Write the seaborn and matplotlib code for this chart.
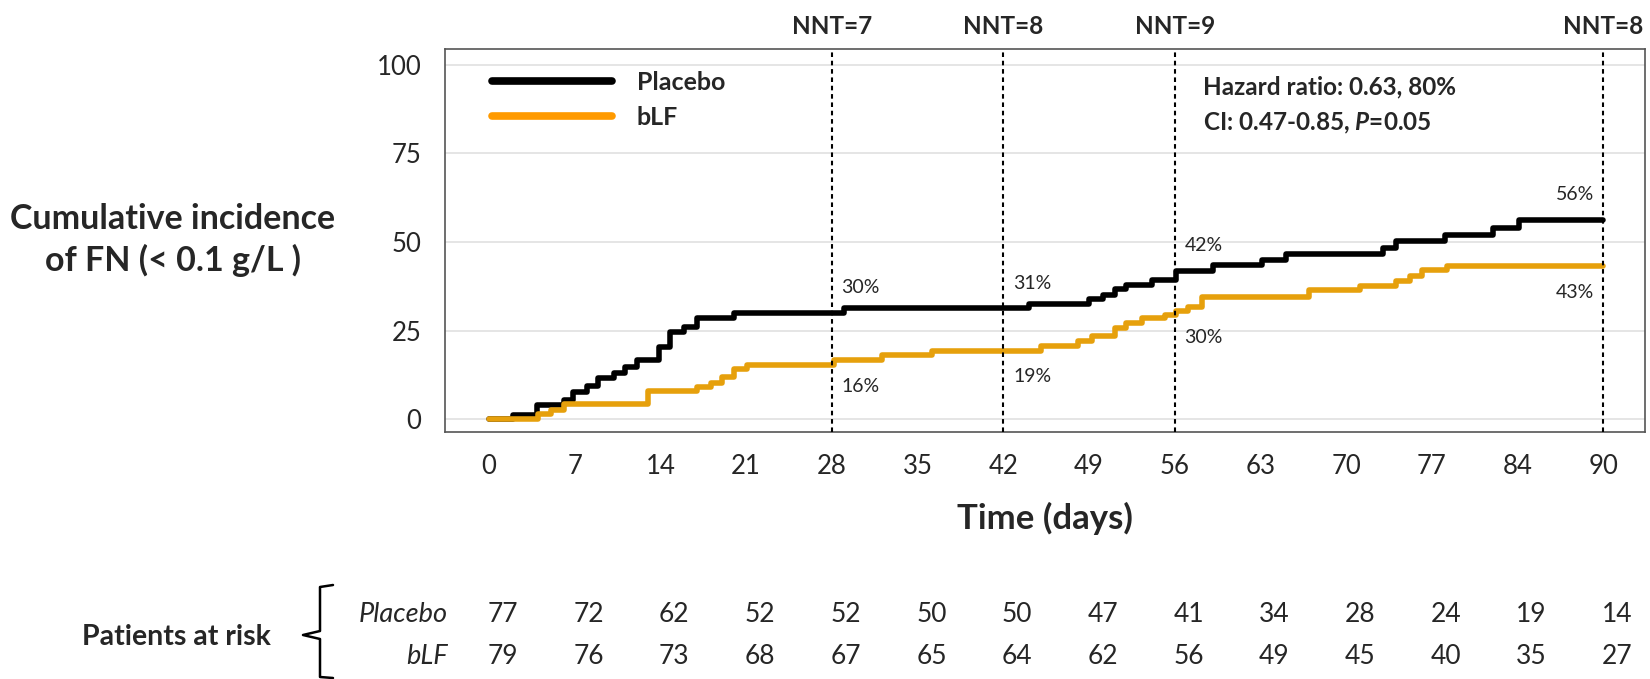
import numpy as np
import pandas as pd
import matplotlib
matplotlib.use('Agg')
import matplotlib.pyplot as plt
import matplotlib.transforms as mtransforms
from matplotlib.lines import Line2D
import seaborn as sns

# step curves (day of event, cumulative incidence %)
placebo_days = [0, 2.0, 3.9, 6.1, 6.9, 8.0, 8.9, 10.2, 11.1, 12.1, 13.9, 14.8, 15.9, 17.0,
                20.0, 29.0, 44.1, 49.0, 50.1, 51.1, 52.0, 54.1, 56.1, 59.1, 63.1, 65.1,
                73.0, 74.1, 78.1, 82.0, 84.1, 91]
placebo_pct = [0, 1.3, 4.0, 5.4, 7.8, 9.4, 11.6, 13.2, 14.7, 16.7, 20.5, 24.7, 25.9, 28.5,
               30.0, 31.3, 32.6, 33.9, 35.1, 36.7, 37.9, 39.3, 41.9, 43.5, 45.0, 46.7,
               48.3, 50.4, 52.1, 53.9, 56.3, 56.3]
blf_days = [0, 4.0, 5.1, 6.1, 13.0, 17.0, 18.1, 19.0, 20.0, 21.1, 28.2, 32.1, 36.2, 45.1,
            48.1, 49.2, 51.1, 52.0, 53.3, 55.2, 56.1, 57.1, 58.2, 67.0, 71.1, 74.1, 75.2,
            76.2, 78.2, 91]
blf_pct = [0, 1.4, 2.6, 4.2, 8.1, 9.2, 10.3, 11.8, 14.1, 15.4, 16.6, 18.1, 19.4, 20.6,
           22.0, 23.4, 25.7, 27.1, 28.5, 29.5, 30.6, 31.6, 34.4, 36.4, 37.5, 38.9, 40.3,
           42.0, 43.1, 43.1]

arms = ['Placebo', 'bLF']
curve_colors = {'Placebo': '#000000', 'bLF': '#E6A00C'}
legend_colors = {'Placebo': '#000000', 'bLF': '#FF9A00'}

x_ticks = [0, 7, 14, 21, 28, 35, 42, 49, 56, 63, 70, 77, 84, 91]
x_tick_labels = ['0', '7', '14', '21', '28', '35', '42', '49', '56', '63', '70', '77', '84', '90']
y_ticks = [0, 25, 50, 75, 100]

nnt_days = [28, 42, 56, 91]
nnt_labels = ['NNT=7', 'NNT=8', 'NNT=9', 'NNT=8']
placebo_marks = ['30%', '31%', '42%', '56%']
blf_marks = ['16%', '19%', '30%', '43%']

risk_placebo = [77, 72, 62, 52, 52, 50, 50, 47, 41, 34, 28, 24, 19, 14]
risk_blf = [79, 76, 73, 68, 67, 65, 64, 62, 56, 49, 45, 40, 35, 27]

df = pd.concat([
    pd.DataFrame({'day': placebo_days, 'pct': placebo_pct, 'arm': 'Placebo'}),
    pd.DataFrame({'day': blf_days, 'pct': blf_pct, 'arm': 'bLF'}),
])

sns.set_style('white')
plt.rcParams['font.family'] = ['Lato', 'DejaVu Sans']
plt.rcParams['mathtext.fontset'] = 'custom'
plt.rcParams['mathtext.it'] = 'Lato:italic:bold'
plt.rcParams['mathtext.rm'] = 'Lato:bold'

fig = plt.figure(figsize=(16.5, 6.79), dpi=100)
ax = fig.add_axes([0.2697, 0.3645, 0.7273, 0.5626])

# grid first
for y in y_ticks:
    ax.axhline(y, color='#E3E3E3', lw=1.3, zorder=0)

sns.lineplot(data=df, x='day', y='pct', hue='arm', hue_order=arms, palette=curve_colors,
             drawstyle='steps-post', linewidth=4.0, estimator=None, legend=False, ax=ax,
             zorder=3)

for d in nnt_days:
    ax.axvline(d, color='black', lw=1.5, linestyle=(0, (2.2, 1.8)), zorder=4)

ax.set_xlim(-3.59, 94.4)
ax.set_ylim(-3.44, 104.3)
ax.set_xticks(x_ticks)
ax.set_xticklabels(x_tick_labels)
ax.set_yticks(y_ticks)
ax.tick_params(axis='y', length=14, width=1.1, color='#555555', pad=3, labelsize=18.5)
ax.tick_params(axis='x', length=5, width=1.1, color='#555555', pad=11, labelsize=18.5)
for s in ax.spines.values():
    s.set_color('#555555')
    s.set_linewidth(1.2)
ax.set_xlabel('Time (days)', fontsize=25, fontweight='bold', labelpad=17)
ax.set_ylabel('')

# NNT labels above the plot
top_tr = mtransforms.blended_transform_factory(ax.transData, fig.transFigure)
for d, lab in zip(nnt_days, nnt_labels):
    ax.text(d, 1 - 27 / 679, lab, transform=top_tr, ha='center', va='center',
            fontsize=17.5, fontweight='bold')


def value_at(days, pct, d):
    i = np.searchsorted(days, d, side='right') - 1
    return pct[i]


# percentage annotations next to the dashed lines
for k, d in enumerate(nnt_days):
    last = k == len(nnt_days) - 1
    probe = d - 0.01 if last else d + 0.6
    up = value_at(placebo_days, placebo_pct, probe)
    lo = value_at(blf_days, blf_pct, probe)
    dx = -7 if last else 7
    ha = 'right' if last else 'left'
    ax.annotate(placebo_marks[k], (d, up), xytext=(dx, 18), textcoords='offset points',
                ha=ha, va='center', fontsize=14)
    ax.annotate(blf_marks[k], (d, lo), xytext=(dx, -19), textcoords='offset points',
                ha=ha, va='center', fontsize=14)

# legend
handles = [Line2D([], [], color=legend_colors[a], lw=5.5) for a in arms]
leg = ax.legend(handles, arms, loc='upper left', bbox_to_anchor=(0.039, 0.945),
                frameon=False, borderpad=0, borderaxespad=0, handlelength=4.8,
                handletextpad=1.0, labelspacing=0.5, prop={'size': 18, 'weight': 'bold'})

ax.text(0.632, 0.9026, 'Hazard ratio: 0.63, 80%', transform=ax.transAxes,
        ha='left', va='center', fontsize=17.5, fontweight='bold')
ax.text(0.632, 0.8076, 'CI: 0.47-0.85, $P$=0.05', transform=ax.transAxes,
        ha='left', va='center', fontsize=17.5, fontweight='bold')

# y label as horizontal block
fig.text(173 / 1650, 1 - 240 / 679, 'Cumulative incidence\nof FN (< 0.1 g/L )',
         ha='center', va='center', multialignment='center', fontsize=24.5,
         fontweight='bold', linespacing=1.3)

# patients at risk table
row_y = {'Placebo': 1 - 615 / 679, 'bLF': 1 - 657 / 679}
shift = mtransforms.ScaledTranslation(10 / 72, 0, fig.dpi_scale_trans)
for arm, counts in zip(arms, [risk_placebo, risk_blf]):
    fig.text(448 / 1650, row_y[arm], arm, ha='right', va='center', fontsize=19.5,
             style='italic')
    for t, n in zip(x_ticks, counts):
        ax.text(t, row_y[arm], str(n), transform=top_tr + shift, ha='center',
                va='center', fontsize=19)

fig.text(176 / 1650, 1 - 637 / 679, 'Patients at risk', ha='center', va='center',
         fontsize=20.5, fontweight='bold')

# bracket
bx = [333 / 1650, 320 / 1650, 320 / 1650, 303 / 1650, 320 / 1650, 320 / 1650, 333 / 1650]
by = [1 - 585 / 679, 1 - 587 / 679, 1 - 631 / 679, 1 - 635 / 679, 1 - 639 / 679,
      1 - 677 / 679, 1 - 678 / 679]
fig.add_artist(Line2D(bx, by, color='black', lw=1.8, transform=fig.transFigure))

fig.savefig('out.png', dpi=100)
